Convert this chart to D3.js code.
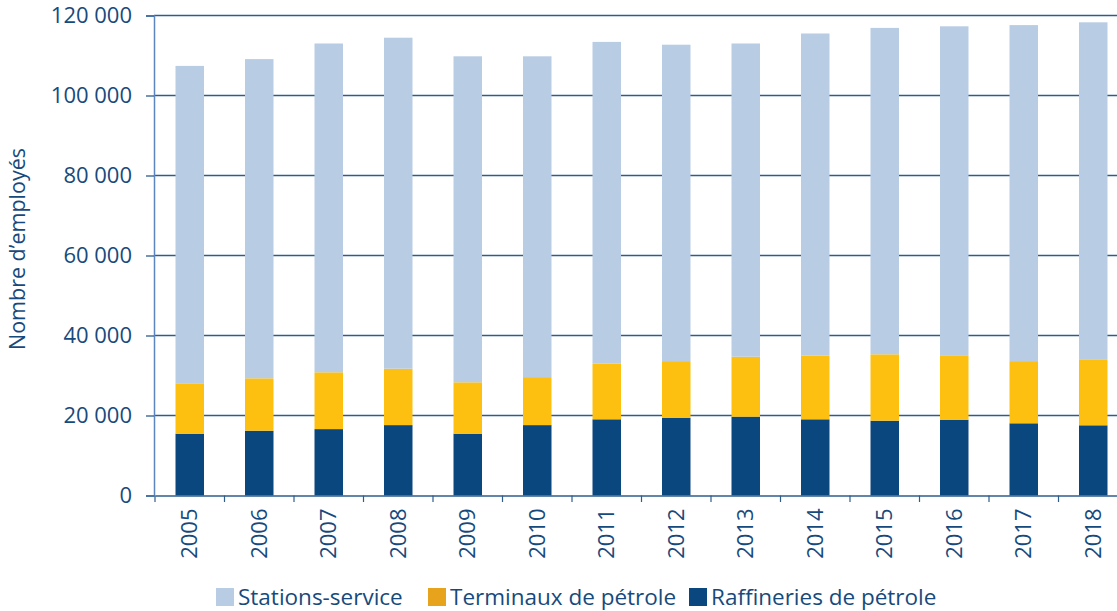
<!DOCTYPE html>
<html>

<head>
  <meta charset="utf-8">
  <style>
    body { margin: 0; background: #fff; }
    text { font-family: "Open Sans", sans-serif; fill: #174a7c; }
  </style>
</head>

<body>
  <script src="https://d3js.org/d3.v7.min.js"></script>
  <script>
    var years = ["2005", "2006", "2007", "2008", "2009", "2010", "2011", "2012", "2013", "2014", "2015", "2016", "2017", "2018"];
    var raffineries = [15450, 16200, 16600, 17600, 15450, 17600, 19050, 19450, 19700, 19050, 18700, 18950, 18050, 17550];
    var terminaux = [12600, 13100, 14200, 14100, 12850, 12000, 13900, 14150, 15000, 15900, 16600, 15950, 15550, 16350];
    var stations = [79350, 79800, 82200, 82750, 81500, 80200, 80450, 79100, 78300, 80550, 81600, 82400, 84000, 84400];
    var yTicks = [0, 20000, 40000, 60000, 80000, 100000, 120000];

    var seriesNames = ["Raffineries de pétrole", "Terminaux de pétrole", "Stations-service"];
    var colors = {
      "Raffineries de pétrole": "#0b477f",
      "Terminaux de pétrole": "#fdc010",
      "Stations-service": "#b8cce4"
    };
    var legendColors = {
      "Raffineries de pétrole": "#0b477f",
      "Terminaux de pétrole": "#e6a31b",
      "Stations-service": "#b8cce4"
    };

    var width = 1117,
      height = 611;

    var rows = years.map(function(y, i) {
      return {
        year: y,
        "Raffineries de pétrole": raffineries[i],
        "Terminaux de pétrole": terminaux[i],
        "Stations-service": stations[i]
      };
    });

    var svg = d3.select("body").append("svg")
      .attr("width", width)
      .attr("height", height);

    var x = d3.scaleBand()
      .domain(years)
      .range([155, 1128])
      .paddingInner(0.59)
      .paddingOuter(0.295);

    var y = d3.scaleLinear()
      .domain([0, 120000])
      .range([495.5, 15.5]);

    // gridlines
    svg.append("g")
      .selectAll("line")
      .data(yTicks.filter(function(d) { return d > 0; }))
      .enter().append("line")
      .attr("x1", 154)
      .attr("x2", width)
      .attr("y1", function(d) { return y(d); })
      .attr("y2", function(d) { return y(d); })
      .attr("stroke", "#2e5d8c")
      .attr("stroke-width", 1.3);

    // bars
    var stack = d3.stack().keys(seriesNames);
    svg.append("g")
      .selectAll("g")
      .data(stack(rows))
      .enter().append("g")
      .attr("fill", function(d) { return colors[d.key]; })
      .selectAll("rect")
      .data(function(d) { return d; })
      .enter().append("rect")
      .attr("x", function(d) { return x(d.data.year); })
      .attr("width", x.bandwidth())
      .attr("y", function(d) { return y(d[1]); })
      .attr("height", function(d) { return y(d[0]) - y(d[1]); });

    // y axis
    var yAxis = d3.axisLeft(y)
      .tickValues(yTicks)
      .tickSize(8)
      .tickPadding(14)
      .tickFormat(function(d) { return d3.format(",")(d).replace(/,/g, " "); });

    var gy = svg.append("g")
      .attr("transform", "translate(154,0)")
      .call(yAxis);
    gy.select(".domain").attr("stroke", "#5b86c0").attr("stroke-width", 1.5);
    gy.selectAll(".tick line").attr("stroke", "#2e5d8c").attr("stroke-width", 1.3);
    gy.selectAll(".tick text")
      .attr("font-size", 22)
      .attr("fill", "#174a7c")
      .style("font-family", "'Open Sans', sans-serif");

    // x axis
    var xAxis = d3.axisBottom(x).tickSize(0).tickPadding(0);
    var gx = svg.append("g")
      .attr("transform", "translate(0,495.5)")
      .call(xAxis);
    gx.select(".domain").attr("stroke", "#2e5d8c").attr("stroke-width", 1.3);
    gx.selectAll(".tick text")
      .attr("font-size", 22)
      .attr("fill", "#174a7c")
      .style("font-family", "'Open Sans', sans-serif")
      .attr("text-anchor", "end")
      .attr("dy", "0.35em")
      .attr("transform", "translate(0,13) rotate(-90)")
      .attr("y", 0)
      .attr("x", 0);

    // ticks between categories
    var step = x.step();
    svg.append("g")
      .selectAll("line")
      .data(years)
      .enter().append("line")
      .attr("x1", function(d) { return x(d) - x.paddingInner() * step / 2; })
      .attr("x2", function(d) { return x(d) - x.paddingInner() * step / 2; })
      .attr("y1", 495.5)
      .attr("y2", 502)
      .attr("stroke", "#2e5d8c")
      .attr("stroke-width", 1.2);

    // y axis title
    svg.append("text")
      .attr("transform", "translate(25,249) rotate(-90)")
      .attr("text-anchor", "middle")
      .attr("font-size", 21.5)
      .text("Nombre d’employés");

    // legend
    var legendItems = [
      { name: "Stations-service", x: 216 },
      { name: "Terminaux de pétrole", x: 428 },
      { name: "Raffineries de pétrole", x: 689 }
    ];
    var lg = svg.append("g").selectAll("g")
      .data(legendItems)
      .enter().append("g")
      .attr("transform", function(d) { return "translate(" + d.x + ",588)"; });
    lg.append("rect")
      .attr("width", 18)
      .attr("height", 18)
      .attr("fill", function(d) { return legendColors[d.name]; });
    lg.append("text")
      .attr("x", 22)
      .attr("y", 17)
      .attr("font-size", 22.5)
      .text(function(d) { return d.name; });
  </script>
</body>

</html>
